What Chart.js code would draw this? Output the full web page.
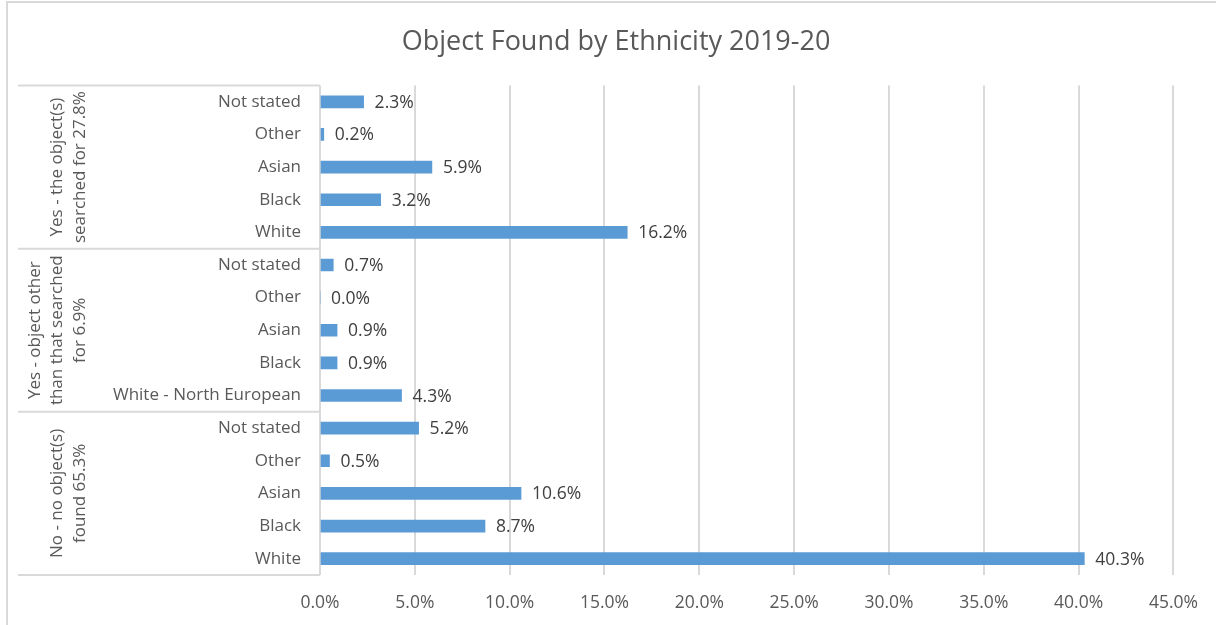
<!DOCTYPE html>
<html>
<head>
<meta charset="utf-8">
<title>Object Found by Ethnicity 2019-20</title>
<script src="https://cdn.jsdelivr.net/npm/chart.js@4.4.1/dist/chart.umd.min.js"></script>
<style>
  html, body { margin: 0; padding: 0; background: #fff; }
  canvas { display: block; }
</style>
</head>
<body>
<canvas id="chart" width="1216" height="625"></canvas>
<script>
// ── Data ─────────────────────────────────────────────────────
const CHART_TITLE = 'Object Found by Ethnicity 2019-20';

// rows listed top to bottom
const categories = [
  'Not stated', 'Other', 'Asian', 'Black', 'White',
  'Not stated', 'Other', 'Asian', 'Black', 'White - North European',
  'Not stated', 'Other', 'Asian', 'Black', 'White',
];
const values = [
  2.3, 0.2, 5.9, 3.2, 16.2,
  0.7, 0.0, 0.9, 0.9, 4.3,
  5.2, 0.5, 10.6, 8.7, 40.3,
];

// outer category level (one entry per group, each covering groupSizes rows)
const groupLabels = [
  ['Yes - the object(s)', 'searched for 27.8%'],
  ['Yes - object other', 'than that searched', 'for 6.9%'],
  ['No - no object(s)', 'found 65.3%'],
];
const groupSizes = [5, 5, 5];

const xMax  = 45;
const xStep = 5;

// ── Style ────────────────────────────────────────────────────
const FONT       = "'Open Sans', 'Noto Sans', sans-serif";
const BAR_COLOR  = '#5B9BD5';
const TEXT_COLOR = '#595959';
const LINE_COLOR = '#d9d9d9';

const pct = v => v.toFixed(1) + '%';

// outer border of the chart box + title (centred on the whole box, like Excel)
const frame = {
  id: 'frame',
  beforeDraw(chart) {
    const { ctx, width, height } = chart;
    ctx.save();
    ctx.strokeStyle = LINE_COLOR;
    ctx.lineWidth = 2;
    ctx.beginPath();
    ctx.moveTo(7, height + 2);
    ctx.lineTo(7, 2);
    ctx.lineTo(width + 2, 2);
    ctx.stroke();

    ctx.fillStyle = TEXT_COLOR;
    ctx.font = `27px ${FONT}`;
    ctx.textAlign = 'center';
    ctx.textBaseline = 'middle';
    ctx.fillText(CHART_TITLE, 616, 42);
    ctx.restore();
  },
};

// value labels at the end of each bar
const valueLabels = {
  id: 'valueLabels',
  afterDatasetsDraw(chart) {
    const { ctx } = chart;
    const meta = chart.getDatasetMeta(0);
    ctx.save();
    ctx.font = `17.5px ${FONT}`;
    ctx.fillStyle = '#404040';
    ctx.textAlign = 'left';
    ctx.textBaseline = 'middle';
    meta.data.forEach((bar, i) => {
      ctx.fillText(pct(values[i]), bar.x + 11, bar.y + 1);
    });
    ctx.restore();
  },
};

// multi-level category axis: group boxes + rotated group labels
const groupAxis = {
  id: 'groupAxis',
  afterDraw(chart) {
    const { ctx, chartArea } = chart;
    const y = chart.scales.y;
    const band = y.getPixelForValue(1) - y.getPixelForValue(0);
    const left = 18;

    ctx.save();
    ctx.strokeStyle = LINE_COLOR;
    ctx.lineWidth = 2;

    let start = 0;
    const edges = [y.getPixelForValue(0) - band / 2];
    groupSizes.forEach(n => {
      start += n;
      edges.push(y.getPixelForValue(start - 1) + band / 2);
    });
    edges.forEach(e => {
      ctx.beginPath();
      ctx.moveTo(left, e);
      ctx.lineTo(chartArea.left, e);
      ctx.stroke();
    });

    ctx.fillStyle = TEXT_COLOR;
    ctx.font = `17px ${FONT}`;
    ctx.textAlign = 'center';
    ctx.textBaseline = 'middle';
    groupLabels.forEach((lines, g) => {
      const mid = (edges[g] + edges[g + 1]) / 2;
      lines.forEach((line, i) => {
        const x = 80 - (lines.length - 1 - i) * 22.5;
        ctx.save();
        ctx.translate(x, mid);
        ctx.rotate(-Math.PI / 2);
        ctx.fillText(line, 0, 0);
        ctx.restore();
      });
    });
    ctx.restore();
  },
};

new Chart(document.getElementById('chart'), {
  type: 'bar',
  data: {
    labels: categories,
    datasets: [{
      data: values,
      backgroundColor: BAR_COLOR,
      barThickness: 12,
    }],
  },
  options: {
    indexAxis: 'y',
    responsive: false,
    animation: false,
    layout: { padding: { left: 18, right: 39, top: 85.5, bottom: 0 } },
    plugins: {
      legend: { display: false },
      tooltip: { enabled: false },
      title: { display: false },
    },
    scales: {
      x: {
        min: 0,
        max: xMax,
        afterFit: s => { s.height = 50; },
        ticks: {
          stepSize: xStep,
          color: TEXT_COLOR,
          font: { family: FONT, size: 17.5 },
          padding: 18,
          callback: v => pct(v),
        },
        grid: { color: LINE_COLOR, lineWidth: 2, drawTicks: false },
        border: { display: false },
      },
      y: {
        afterFit: s => { s.width = 302; },
        ticks: {
          color: TEXT_COLOR,
          font: { family: FONT, size: 17 },
          padding: 19,
          autoSkip: false,
        },
        grid: { display: false, drawTicks: false },
        border: { display: false },
      },
    },
  },
  plugins: [frame, valueLabels, groupAxis],
});
</script>
</body>
</html>
